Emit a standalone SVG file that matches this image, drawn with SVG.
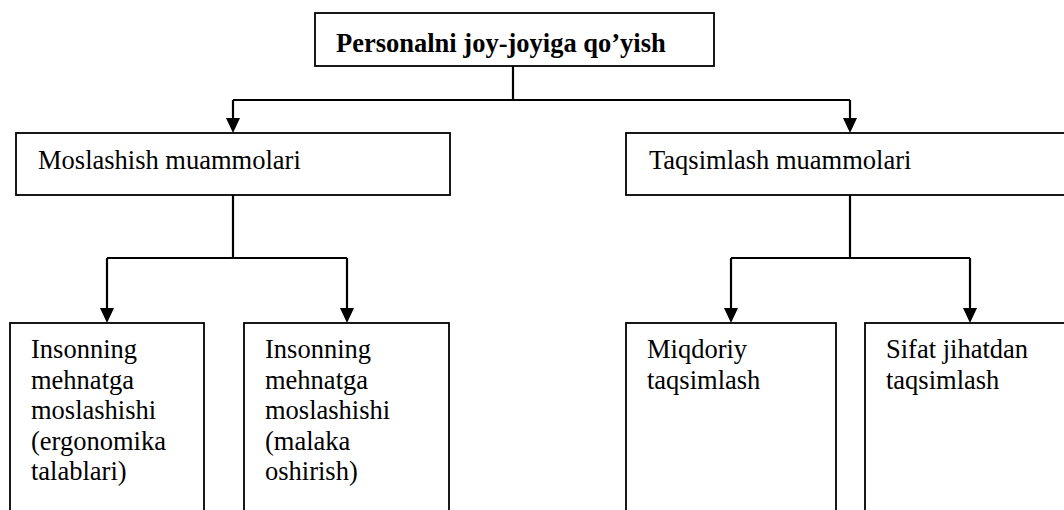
<svg xmlns="http://www.w3.org/2000/svg" width="1064" height="510" viewBox="0 0 1064 510">
<defs>
<style>
.box{fill:#fff;stroke:#000;stroke-width:1.8}
.t{font-family:"Liberation Serif","Times New Roman",serif;font-size:26.5px;fill:#000}
.b{font-weight:bold}
.c{fill:none;stroke:#000;stroke-width:2.2}
</style>
<marker id="ah" viewBox="0 0 14 15" refX="7" refY="15" markerWidth="14" markerHeight="15" markerUnits="userSpaceOnUse" orient="auto-start-reverse">
<path d="M0,0 L14,0 L7,15 Z" fill="#000"/>
</marker>
</defs>
<g id="connectors">
<path class="c" d="M513,66 V100"/>
<path class="c" d="M233,100 H850"/>
<path d="M233,100 V118" class="c"/>
<path d="M226,118 L240,118 L233,133 Z" fill="#000"/>
<path d="M850,100 V118" class="c"/>
<path d="M843,118 L857,118 L850,133 Z" fill="#000"/>
<path class="c" d="M233,195 V258"/>
<path class="c" d="M107,258 H347"/>
<path class="c" d="M107,258 V308"/>
<path d="M100,308 L114,308 L107,323 Z" fill="#000"/>
<path class="c" d="M347,258 V308"/>
<path d="M340,308 L354,308 L347,323 Z" fill="#000"/>
<path class="c" d="M850,195 V258"/>
<path class="c" d="M731,258 H970"/>
<path class="c" d="M731,258 V308"/>
<path d="M724,308 L738,308 L731,323 Z" fill="#000"/>
<path class="c" d="M970,258 V308"/>
<path d="M963,308 L977,308 L970,323 Z" fill="#000"/>
</g>
<g id="root">
<rect class="box" x="315" y="13" width="399" height="53"/>
<text class="t b" x="336" y="52">Personalni joy-joyiga qo’yish</text>
</g>
<g id="moslashish">
<rect class="box" x="16" y="133" width="434" height="62"/>
<text class="t" x="38" y="169">Moslashish muammolari</text>
</g>
<g id="taqsimlash">
<rect class="box" x="626" y="133" width="450" height="62"/>
<text class="t" x="649" y="169">Taqsimlash muammolari</text>
</g>
<g id="ergonomika">
<rect class="box" x="10" y="323" width="194" height="200"/>
<text class="t" x="31" y="358">Insonning<tspan x="31" dy="30.5">mehnatga</tspan><tspan x="31" dy="30.5">moslashishi</tspan><tspan x="31" dy="30.5">(ergonomika</tspan><tspan x="31" dy="30.5">talablari)</tspan></text>
</g>
<g id="malaka">
<rect class="box" x="244" y="323" width="205" height="200"/>
<text class="t" x="265" y="358">Insonning<tspan x="265" dy="30.5">mehnatga</tspan><tspan x="265" dy="30.5">moslashishi</tspan><tspan x="265" dy="30.5">(malaka</tspan><tspan x="265" dy="30.5">oshirish)</tspan></text>
</g>
<g id="miqdoriy">
<rect class="box" x="626" y="323" width="210" height="200"/>
<text class="t" x="647" y="358">Miqdoriy<tspan x="647" dy="30.5">taqsimlash</tspan></text>
</g>
<g id="sifat">
<rect class="box" x="865" y="323" width="220" height="200"/>
<text class="t" x="886" y="358">Sifat jihatdan<tspan x="886" dy="30.5">taqsimlash</tspan></text>
</g>
</svg>
